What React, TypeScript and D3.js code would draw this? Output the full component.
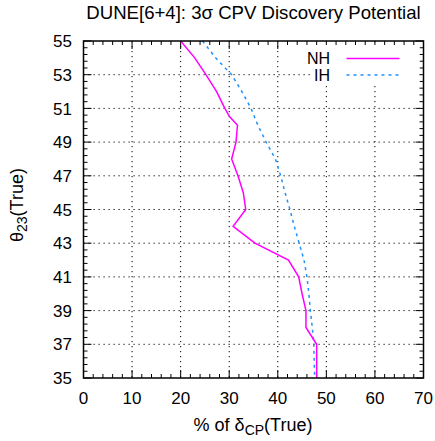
import React, { useEffect, useRef } from 'react';
import * as d3 from 'd3';

// NH curve (theta23 in degrees, % of deltaCP)
const nhTheta = [55, 54, 53, 52, 51, 50.5, 50, 49, 48, 47, 46, 45, 44, 43, 42, 41, 40, 39, 38, 37, 36, 35];
const nhPct = [20, 22.9, 25.2, 27.4, 29.1, 30.1, 31.7, 31.4, 30.5, 31.8, 32.9, 33.4, 30.8, 35.3, 42.2, 44.3, 45.0, 45.8, 45.8, 48.0, 48.0, 48.0];

// IH curve
const ihTheta = [55, 54, 53, 52, 51, 50, 49, 48, 47, 46, 45, 44, 43, 42, 41, 40, 39, 38, 37, 36, 35];
const ihPct = [24.5, 27.2, 30.5, 32.6, 34.5, 35.9, 37.6, 39.5, 40.6, 41.5, 42.5, 43.4, 44.4, 45.4, 46.0, 46.4, 46.7, 47.1, 47.4, 47.5, 47.6];

const xTicks = [0, 10, 20, 30, 40, 50, 60, 70];
const yTicks = [35, 37, 39, 41, 43, 45, 47, 49, 51, 53, 55];

const W = 435, H = 441;
const FONT = '"Liberation Sans", Arial, Helvetica, sans-serif';

export default function App() {
    const ref = useRef<SVGSVGElement | null>(null);

    useEffect(() => {
        if (!ref.current) return;
        const svg = d3.select(ref.current);
        svg.selectAll('*').remove();

        const left = 83.5, right = 423.5, top = 41, bottom = 378;
        const x = d3.scaleLinear().domain([0, 70]).range([left, right]);
        const y = d3.scaleLinear().domain([35, 55]).range([bottom, top]);

        svg.append('rect').attr('width', W).attr('height', H).attr('fill', '#fff');

        // grid
        const grid = svg.append('g')
            .attr('stroke', '#000')
            .attr('stroke-width', 1)
            .attr('stroke-dasharray', '1.2,3.8');
        xTicks.filter(t => t > 0 && t < 70).forEach(t => {
            grid.append('line')
                .attr('x1', x(t)).attr('x2', x(t))
                .attr('y1', top).attr('y2', bottom);
        });
        yTicks.filter(t => t > 35 && t < 55).forEach(t => {
            grid.append('line')
                .attr('x1', left).attr('x2', right)
                .attr('y1', y(t)).attr('y2', y(t));
        });

        // ticks (inward, mirrored)
        const ticks = svg.append('g').attr('stroke', '#000').attr('stroke-width', 1);
        d3.range(0, 70.01, 2).forEach(t => {
            const len = t % 10 === 0 ? 8 : 4;
            ticks.append('line').attr('x1', x(t)).attr('x2', x(t)).attr('y1', bottom).attr('y2', bottom - len);
            ticks.append('line').attr('x1', x(t)).attr('x2', x(t)).attr('y1', top).attr('y2', top + len);
        });
        d3.range(0, 50.5).forEach(i => {
            const t = 35 + i * 0.4;
            const len = i % 5 === 0 ? 8 : 4;
            ticks.append('line').attr('y1', y(t)).attr('y2', y(t)).attr('x1', left).attr('x2', left + len);
            ticks.append('line').attr('y1', y(t)).attr('y2', y(t)).attr('x1', right).attr('x2', right - len);
        });

        const line = d3.line<[number, number]>()
            .x(d => x(d[0]))
            .y(d => y(d[1]));

        // curves
        svg.append('path')
            .datum(ihTheta.map((t, i) => [ihPct[i], t] as [number, number]))
            .attr('d', line)
            .attr('fill', 'none')
            .attr('stroke', '#1e90ff')
            .attr('stroke-width', 1.5)
            .attr('stroke-dasharray', '3,4');

        svg.append('path')
            .datum(nhTheta.map((t, i) => [nhPct[i], t] as [number, number]))
            .attr('d', line)
            .attr('fill', 'none')
            .attr('stroke', '#ff00ff')
            .attr('stroke-width', 1.5);

        // legend
        svg.append('rect')
            .attr('x', 311).attr('y', top + 4)
            .attr('width', right - 4 - 311).attr('height', 38)
            .attr('fill', '#fff');
        const legend = [
            { label: 'NH', color: '#ff00ff', dash: null, yy: 58.5 },
            { label: 'IH', color: '#1e90ff', dash: '3,4', yy: 75 }
        ];
        legend.forEach(l => {
            svg.append('text')
                .attr('x', 330).attr('y', l.yy)
                .attr('dy', '0.36em')
                .attr('text-anchor', 'end')
                .style('font-family', FONT)
                .style('font-size', '16px')
                .text(l.label);
            svg.append('line')
                .attr('x1', 346.5).attr('x2', 399.5)
                .attr('y1', l.yy).attr('y2', l.yy)
                .attr('stroke', l.color)
                .attr('stroke-width', 1.5)
                .attr('stroke-dasharray', l.dash);
        });

        // frame
        svg.append('rect')
            .attr('x', left).attr('y', top)
            .attr('width', right - left).attr('height', bottom - top)
            .attr('fill', 'none')
            .attr('stroke', '#000')
            .attr('stroke-width', 1.5);

        // tick labels
        xTicks.forEach(t => {
            svg.append('text')
                .attr('x', x(t)).attr('y', 404)
                .attr('text-anchor', 'middle')
                .style('font-family', FONT)
                .style('font-size', '17px')
                .text(t);
        });
        yTicks.forEach(t => {
            svg.append('text')
                .attr('x', 72).attr('y', y(t))
                .attr('dy', '0.36em')
                .attr('text-anchor', 'end')
                .style('font-family', FONT)
                .style('font-size', '17px')
                .text(t);
        });

        // title
        svg.append('text')
            .attr('x', 253.5).attr('y', 18.5)
            .attr('text-anchor', 'middle')
            .style('font-family', FONT)
            .style('font-size', '18.6px')
            .text('DUNE[6+4]: 3σ CPV Discovery Potential');

        // x label
        const xl = svg.append('text')
            .attr('x', 253).attr('y', 431)
            .attr('text-anchor', 'middle')
            .style('font-family', FONT)
            .style('font-size', '18px');
        xl.append('tspan').text('% of δ');
        xl.append('tspan').attr('dy', 4).style('font-size', '14px').text('CP');
        xl.append('tspan').attr('dy', -4).text('(True)');

        // y label
        const yl = svg.append('text')
            .attr('transform', 'translate(23,205) rotate(-90)')
            .attr('text-anchor', 'middle')
            .style('font-family', FONT)
            .style('font-size', '18px');
        yl.append('tspan').text('θ');
        yl.append('tspan').attr('dy', 4).style('font-size', '14px').text('23');
        yl.append('tspan').attr('dy', -4).text('(True)');
    }, []);

    return (
        <svg ref={ref} width={W} height={H}
            style={{ position: 'absolute', left: 0, top: 0, background: '#fff' }} />
    );
}
